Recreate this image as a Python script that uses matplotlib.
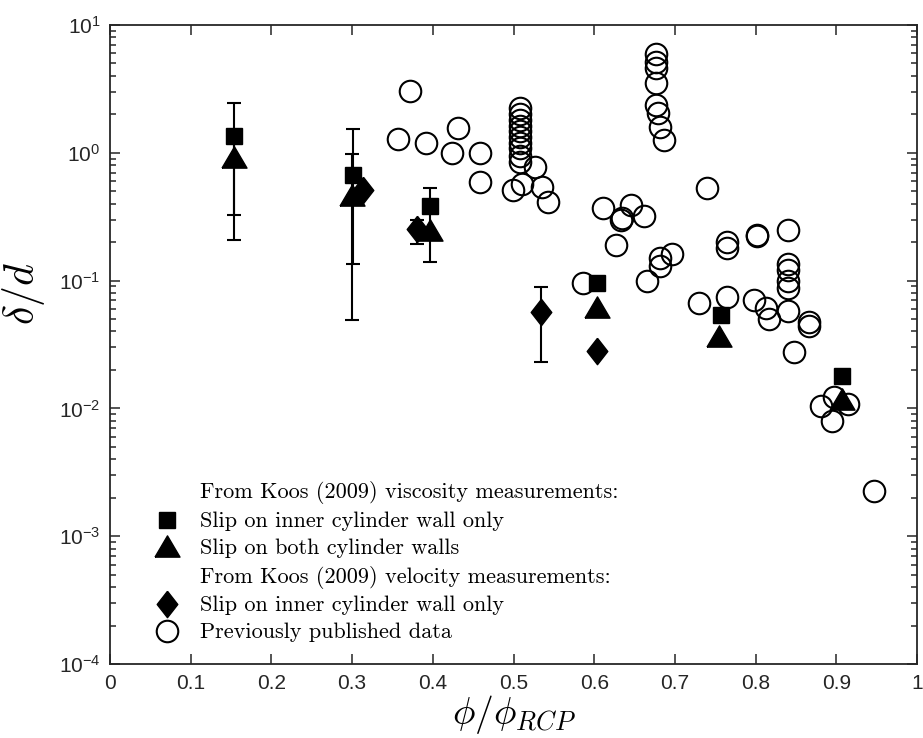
import numpy as np
import matplotlib
matplotlib.use("Agg")
import matplotlib.pyplot as plt
from matplotlib.lines import Line2D
from matplotlib.ticker import FixedLocator, FuncFormatter, LogLocator, NullFormatter

plt.rcParams['font.family'] = 'Liberation Sans'
plt.rcParams['mathtext.fontset'] = 'custom'
plt.rcParams['mathtext.rm'] = 'Liberation Sans'
plt.rcParams['mathtext.it'] = 'Liberation Sans:italic'
plt.rcParams['mathtext.bf'] = 'Liberation Sans:bold'

# Koos (2009) viscosity, slip on inner wall only
sq_x = [0.154, 0.301, 0.396, 0.603, 0.757, 0.907]
sq_y = [1.35, 0.67, 0.38, 0.096, 0.054, 0.018]
# Koos (2009) viscosity, slip on both walls
tri_x = [0.154, 0.300, 0.396, 0.603, 0.755, 0.907]
tri_y = [0.93, 0.47, 0.25, 0.062, 0.037, 0.0118]
# Koos (2009) velocity, slip on inner wall only
dia_x = [0.313, 0.381, 0.534, 0.603]
dia_y = [0.51, 0.253, 0.0566, 0.0283]

# error bars (x, centre, low, high)
err_x = [0.154, 0.154, 0.301, 0.300, 0.396, 0.381, 0.534]
err_y = [1.35, 0.93, 0.67, 0.47, 0.38, 0.253, 0.0566]
err_lo = [0.327, 0.207, 0.135, 0.0488, 0.14, 0.193, 0.023]
err_hi = [2.43, 1.45, 1.53, 0.97, 0.53, 0.30, 0.089]

# previously published data
circ_x = [0.372, 0.357, 0.391, 0.431, 0.424, 0.459, 0.459,
          0.508, 0.508, 0.508, 0.508, 0.508, 0.508, 0.508, 0.508, 0.508, 0.508,
          0.527, 0.499, 0.510, 0.535, 0.543,
          0.677, 0.677, 0.677, 0.677, 0.677, 0.679, 0.682, 0.686,
          0.740, 0.611, 0.646, 0.633, 0.635, 0.662, 0.627, 0.697, 0.681, 0.681,
          0.666, 0.586, 0.765, 0.765, 0.730, 0.765, 0.802, 0.802, 0.840,
          0.840, 0.840, 0.840, 0.840, 0.840, 0.798, 0.813, 0.817, 0.866, 0.866,
          0.847, 0.881, 0.897, 0.915, 0.895, 0.947]
circ_y = [3.05, 1.27, 1.19, 1.55, 1.0, 1.0, 0.59,
          2.25, 2.0, 1.8, 1.62, 1.47, 1.33, 1.2, 1.08, 0.95, 0.85,
          0.78, 0.51, 0.57, 0.54, 0.41,
          5.9, 5.1, 4.6, 3.5, 2.35, 2.05, 1.6, 1.25,
          0.53, 0.37, 0.39, 0.30, 0.31, 0.32, 0.19, 0.16, 0.15, 0.13,
          0.099, 0.095, 0.20, 0.18, 0.067, 0.074, 0.228, 0.222, 0.247,
          0.135, 0.122, 0.10, 0.088, 0.058, 0.071, 0.061, 0.050, 0.047, 0.044,
          0.0276, 0.0105, 0.0122, 0.0108, 0.008, 0.00227]

legend_labels = ['From Koos (2009) viscosity measurements:',
                 'Slip on inner cylinder wall only',
                 'Slip on both cylinder walls',
                 'From Koos (2009) velocity measurements:',
                 'Slip on inner cylinder wall only',
                 'Previously published data']

xticks = [0, 0.1, 0.2, 0.3, 0.4, 0.5, 0.6, 0.7, 0.8, 0.9, 1]

tri_marker = [(-1, -0.85), (1, -0.85), (0, 0.85), (-1, -0.85)]
dia_marker = [(0, 1), (0.78, 0), (0, -1), (-0.78, 0), (0, 1)]
axcol = '#262626'

fig = plt.figure(figsize=(9.23, 7.38), dpi=100)
ax = fig.add_axes([0.1192, 0.1003, 0.8743, 0.8659])

ey = np.array(err_y)
ax.errorbar(err_x, err_y, yerr=[ey - np.array(err_lo), np.array(err_hi) - ey],
            fmt='none', ecolor='k', elinewidth=1.5, capsize=5, capthick=1.5, zorder=2)

ax.plot(circ_x, circ_y, 'o', ms=15.5, mfc='none', mec='k', mew=1.5, zorder=3)
ax.plot(sq_x, sq_y, 's', ms=12, mfc='k', mec='k', zorder=4)
ax.plot(tri_x, tri_y, marker=tri_marker, ls='none', ms=18, mfc='k', mec='k', zorder=4)
ax.plot(dia_x, dia_y, marker=dia_marker, ls='none', ms=19, mfc='k', mec='k', zorder=4)

ax.set_yscale('log')
ax.set_ylim(1e-4, 1e1)
ax.set_xlim(0, 1)
ax.xaxis.set_major_locator(FixedLocator(xticks))
ax.xaxis.set_major_formatter(FuncFormatter(lambda v, p: '%g' % v))
ax.yaxis.set_major_locator(LogLocator(base=10, numticks=10))
ax.yaxis.set_minor_locator(LogLocator(base=10, subs=np.arange(2, 10), numticks=20))
ax.yaxis.set_minor_formatter(NullFormatter())

ax.tick_params(which='both', direction='in', top=True, right=True, colors=axcol,
               labelsize=15, width=1.1)
ax.tick_params(which='major', length=7, pad=7)
ax.tick_params(which='minor', length=4)
for s in ax.spines.values():
    s.set_linewidth(1.3)
    s.set_color(axcol)

ax.set_xlabel(r'$\phi/\phi_{RCP}$', fontsize=27, math_fontfamily='cm', labelpad=0)
ax.set_ylabel(r'$\delta/d$', fontsize=30, math_fontfamily='cm')
ax.yaxis.set_label_coords(-0.078, 0.58)

blank = Line2D([], [], ls='none', marker='')
handles = [blank,
           Line2D([], [], ls='none', marker='s', ms=12, mfc='k', mec='k'),
           Line2D([], [], ls='none', marker=tri_marker, ms=18, mfc='k', mec='k'),
           blank,
           Line2D([], [], ls='none', marker=dia_marker, ms=19, mfc='k', mec='k'),
           Line2D([], [], ls='none', marker='o', ms=15.5, mfc='none', mec='k', mew=1.5)]
ax.legend(handles, legend_labels, loc='lower left', bbox_to_anchor=(0.043, 0.02),
          frameon=False, prop={'family': 'cmr10', 'size': 16},
          handlelength=1.2, handletextpad=0.9, labelspacing=0.33, borderaxespad=0)

fig.savefig('out.png', dpi=100)
